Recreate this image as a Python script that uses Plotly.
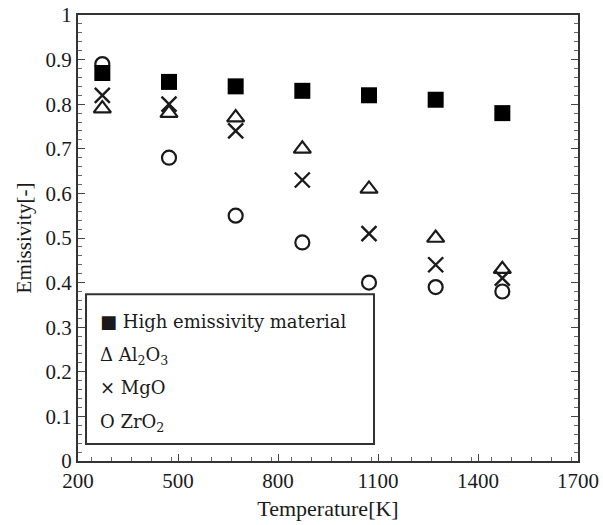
import plotly.graph_objects as go

temperature = [273, 473, 673, 873, 1073, 1273, 1473]
high_emis = [0.87, 0.85, 0.84, 0.83, 0.82, 0.81, 0.78]
al2o3 = [0.79, 0.78, 0.77, 0.70, 0.61, 0.50, 0.43]
mgo = [0.82, 0.80, 0.74, 0.63, 0.51, 0.44, 0.41]
zro2 = [0.89, 0.68, 0.55, 0.49, 0.40, 0.39, 0.38]

legend_lines = [
    "■ High emissivity material",
    "Δ Al<sub>2</sub>O<sub>3</sub>",
    "× MgO",
    "O ZrO<sub>2</sub>",
]

FONT = "Liberation Serif, Times New Roman, serif"
LFONT = "DejaVu Serif, serif"
INK = "#1a1a1a"

fig = go.Figure()
fig.add_trace(go.Scatter(x=temperature, y=zro2, mode="markers", name="ZrO2",
                         marker=dict(symbol="circle-open", size=14, color=INK, line=dict(width=2.2))))
fig.add_trace(go.Scatter(x=temperature, y=al2o3, mode="markers", name="Al2O3",
                         marker=dict(symbol="triangle-up-open", size=15, color=INK, line=dict(width=2.2))))
fig.add_trace(go.Scatter(x=temperature, y=mgo, mode="markers", name="MgO",
                         marker=dict(symbol="x-thin-open", size=15, color=INK, line=dict(width=2.4))))
fig.add_trace(go.Scatter(x=temperature, y=high_emis, mode="markers", name="High emissivity material",
                         marker=dict(symbol="square", size=16, color="black")))

fig.add_shape(type="rect", xref="paper", yref="paper", x0=0.016, x1=0.592, y0=0.038, y1=0.374,
              line=dict(color="#333", width=2), fillcolor="white", layer="below")

ys = [0.312, 0.236, 0.164, 0.085]
for txt, yy in zip(legend_lines, ys):
    fig.add_annotation(text=txt, xref="paper", yref="paper", x=0.040, y=yy,
                       xanchor="left", yanchor="middle", showarrow=False,
                       font=dict(family=LFONT, size=18, color=INK))

axis_common = dict(
    showgrid=False, zeroline=False, showline=True, linecolor="#333", linewidth=2,
    ticks="inside", ticklen=7, tickwidth=1.3, tickcolor="#444", automargin=False,
    tickfont=dict(family=FONT, size=21, color=INK),
)

fig.update_xaxes(range=[200, 1700], tick0=200, dtick=300, mirror=True,
                 minor=dict(dtick=60, ticks="inside", ticklen=4, tickcolor="#666", tickwidth=1),
                 title=dict(text="Temperature[K]", font=dict(family=FONT, size=22, color=INK), standoff=8),
                 **axis_common)
fig.update_yaxes(range=[0, 1], tick0=0, dtick=0.1, mirror="ticks",
                 tickvals=[0, 0.1, 0.2, 0.3, 0.4, 0.5, 0.6, 0.7, 0.8, 0.9, 1],
                 ticktext=["0", "0.1", "0.2", "0.3", "0.4", "0.5", "0.6", "0.7", "0.8", "0.9", "1"],
                 minor=dict(dtick=0.02, ticks="inside", ticklen=4, tickcolor="#666", tickwidth=1),
                 title=dict(text="Emissivity[-]", font=dict(family=FONT, size=21, color=INK), standoff=8),
                 **axis_common)

fig.update_layout(
    width=603, height=525,
    margin=dict(l=78, r=25, t=15, b=64),
    plot_bgcolor="white", paper_bgcolor="white",
    showlegend=False,
)

fig.write_html("out.html")
